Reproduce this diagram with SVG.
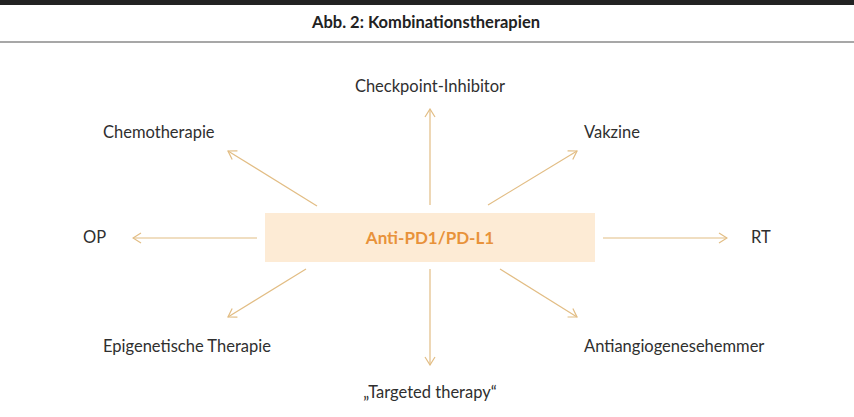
<svg xmlns="http://www.w3.org/2000/svg" width="854" height="417" viewBox="0 0 854 417">
<defs>
<style>
.lbl{font-family:Lato,"Open Sans","DejaVu Sans",sans-serif;font-size:16.5px;fill:#2f2f2f}
.title{font-family:Lato,"DejaVu Sans",sans-serif;font-size:17px;font-weight:bold;fill:#222222}
.center{font-family:Lato,"DejaVu Sans",sans-serif;font-size:17px;font-weight:bold;fill:#e8923a}
.con{stroke:#e2bd84;stroke-width:1.2;fill:none;marker-end:url(#ah)}
</style>
<marker id="ah" viewBox="0 0 12 12" refX="11" refY="6" markerWidth="12" markerHeight="12" markerUnits="userSpaceOnUse" orient="auto">
<path d="M3,1 L11,6 L3,11" fill="none" stroke="#e2bd84" stroke-width="1.2"/>
</marker>
</defs>
<rect width="854" height="417" fill="#ffffff"/>
<rect x="0" y="0" width="854" height="5" fill="#222222"/>
<line x1="0" y1="42" x2="854" y2="42" stroke="#8a8a8a" stroke-width="1.5"/>
<text class="title" x="426" y="28" text-anchor="middle" textLength="228" lengthAdjust="spacingAndGlyphs">Abb. 2: Kombinationstherapien</text>
<g id="connectors">
<line class="con" x1="430" y1="205" x2="430" y2="109"/>
<line class="con" x1="488" y1="205" x2="577" y2="151"/>
<line class="con" x1="317" y1="206" x2="228" y2="151"/>
<line class="con" x1="257" y1="238" x2="133" y2="238"/>
<line class="con" x1="603" y1="238" x2="727" y2="238"/>
<line class="con" x1="500" y1="269" x2="577" y2="317"/>
<line class="con" x1="430" y1="269" x2="430" y2="365"/>
<line class="con" x1="306" y1="269" x2="228" y2="317"/>
</g>
<g id="center-node">
<rect x="265" y="213" width="330" height="49" fill="#fdebd5"/>
<text class="center" x="430" y="244" text-anchor="middle">Anti-PD1/PD-L1</text>
</g>
<g id="checkpoint"><text class="lbl" x="430" y="92" text-anchor="middle">Checkpoint-Inhibitor</text></g>
<g id="vakzine"><text class="lbl" x="584" y="138">Vakzine</text></g>
<g id="chemo"><text class="lbl" x="103" y="138">Chemotherapie</text></g>
<g id="op"><text class="lbl" x="83" y="243">OP</text></g>
<g id="rt"><text class="lbl" x="751" y="243">RT</text></g>
<g id="epigenetisch"><text class="lbl" x="103" y="352">Epigenetische Therapie</text></g>
<g id="targeted"><text class="lbl" x="430" y="398" text-anchor="middle">„Targeted therapy“</text></g>
<g id="antiangio"><text class="lbl" x="584" y="352">Antiangiogenesehemmer</text></g>
</svg>
